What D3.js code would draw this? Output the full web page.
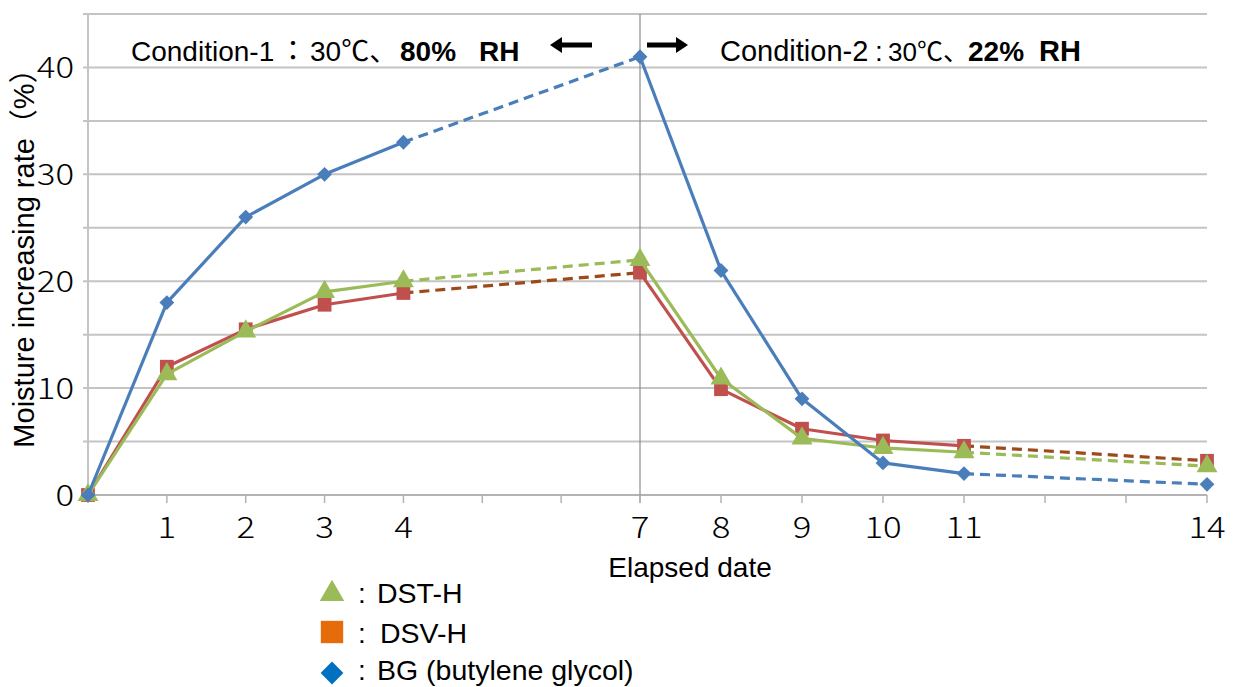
<!DOCTYPE html>
<html>
<head>
<meta charset="utf-8">
<script src="https://cdn.jsdelivr.net/npm/d3@7"></script>
<style>
  html, body { margin: 0; padding: 0; background: #fff; }
  svg { display: block; }
  .lbl { font-family: "Liberation Sans", Arial, "Noto Sans CJK JP", sans-serif; fill: #000; }
  .num { font-family: "Noto Sans CJK JP", "Liberation Sans", sans-serif; font-weight: 300; fill: #000; }
</style>
</head>
<body>
<svg id="chart" width="1242" height="687"></svg>
<script>
// Elapsed days at which measurements were taken
const days = [0, 1, 2, 3, 4, 7, 8, 9, 10, 11, 14];
// Moisture increasing rate (%) per sample
const dstH = [0, 11.3, 15.3, 19.0, 20.0, 22.0, 10.9, 5.3, 4.4, 4.0, 2.7];
const dsvH = [0, 12.0, 15.5, 17.8, 18.9, 20.8, 9.9, 6.2, 5.1, 4.6, 3.2];
const bg   = [0, 18.0, 26.0, 30.0, 33.0, 41.0, 21.0, 9.0, 3.0, 2.0, 1.0];
// Axis ticks
const xTickLabels = [1, 2, 3, 4, 7, 8, 9, 10, 11, 14];
const xTickMarks = d3.range(0, 15);
const yTickLabels = [0, 10, 20, 30, 40];
const yGrid = d3.range(0, 50, 5);
// Segments drawn dashed (gaps between measurement days)
const dashedSpans = [[4, 7], [11, 14]];

const svg = d3.select("#chart");
// day 7 splits the two conditions; each half has its own spacing
const x = d3.scaleLinear().domain([0, 7, 14]).range([88, 640, 1207]);
const y = d3.scaleLinear().domain([0, 45]).range([495, 14]);

// horizontal gridlines
svg.append("g").selectAll("line").data(yGrid).join("line")
  .attr("x1", x(0) - 5).attr("x2", x(14))
  .attr("y1", d => y(d)).attr("y2", d => y(d))
  .attr("stroke", d => d === 0 ? "#b3b3b3" : "#c4c4c4")
  .attr("stroke-width", 2);

// left axis line
svg.append("line").attr("x1", x(0)).attr("x2", x(0))
  .attr("y1", y(45)).attr("y2", y(0))
  .attr("stroke", "#c4c4c4").attr("stroke-width", 2);

// condition boundary at day 7
svg.append("line").attr("x1", x(7)).attr("x2", x(7))
  .attr("y1", y(45)).attr("y2", y(0) + 8)
  .attr("stroke", "#8c8c8c").attr("stroke-width", 1.2);

// x tick marks
svg.append("g").selectAll("line").data(xTickMarks).join("line")
  .attr("x1", d => x(d)).attr("x2", d => x(d))
  .attr("y1", y(0)).attr("y2", y(0) + 8)
  .attr("stroke", "#b3b3b3").attr("stroke-width", 1.5);

// x tick labels
svg.append("g").selectAll("text").data(xTickLabels).join("text")
  .attr("class", "num")
  .attr("transform", d => `translate(${x(d)},538) scale(1.2,1)`)
  .attr("text-anchor", "middle")
  .attr("font-size", 29)
  .text(d => d);

// y tick labels
svg.append("g").selectAll("text").data(yTickLabels).join("text")
  .attr("class", "num")
  .attr("transform", d => `translate(74,${y(d) + 11}) scale(1.2,1)`)
  .attr("text-anchor", "end")
  .attr("font-size", 29)
  .text(d => d);

// axis titles
svg.append("text").attr("class", "lbl")
  .attr("transform", `translate(34,251) rotate(-90)`)
  .attr("text-anchor", "middle")
  .attr("font-size", 29)
  .text("Moisture increasing rate（%）");

svg.append("text").attr("class", "lbl")
  .attr("x", 690).attr("y", 577)
  .attr("text-anchor", "middle")
  .attr("font-size", 28)
  .text("Elapsed date");

// condition annotations
function condition(parts) {
  parts.forEach(p => {
    svg.append("text").attr("class", "lbl")
      .attr("x", p.x).attr("y", 61)
      .attr("font-size", p.size || 28)
      .attr("font-weight", p.bold ? "bold" : null)
      .attr("text-anchor", p.anchor || "start")
      .text(p.t);
  });
}
condition([
  { t: "Condition-1", x: 131 },
  { t: "：", x: 293, anchor: "middle" },
  { t: "30℃、", x: 310 },
  { t: "80%", x: 400, bold: true },
  { t: "RH", x: 479, bold: true }
]);
condition([
  { t: "Condition-2", x: 720, size: 29 },
  { t: ":", x: 879, anchor: "middle" },
  { t: "30℃、", x: 888, size: 26 },
  { t: "22%", x: 968, bold: true },
  { t: "RH", x: 1039, bold: true, size: 29 }
]);

// arrows
function arrow(x0, x1, yy) {
  const dir = Math.sign(x1 - x0);
  svg.append("line").attr("x1", x0).attr("x2", x1 - dir * 8).attr("y1", yy).attr("y2", yy)
    .attr("stroke", "#000").attr("stroke-width", 5);
  svg.append("path")
    .attr("d", `M${x1},${yy} L${x1 - dir * 12},${yy - 8} L${x1 - dir * 12},${yy + 8} Z`)
    .attr("fill", "#000");
}
arrow(592, 550, 45);
arrow(647, 688, 45);

// series
const series = [
  { name: "DST-H", values: dstH, color: "#9bbb59", dash: "#9bbb59", shape: d3.symbolTriangle, size: 190, rot: 0 },
  { name: "DSV-H", values: dsvH, color: "#c0504d", dash: "#9c4a1a", shape: d3.symbolSquare, size: 190, rot: 0 },
  { name: "BG", values: bg, color: "#4a7ebb", dash: "#4a7ebb", shape: d3.symbolSquare, size: 110, rot: 45 }
];
const drawOrder = [series[1], series[0], series[2]];
const line = d3.line().x(d => x(d[0])).y(d => y(d[1]));

drawOrder.forEach(s => {
  const pts = days.map((d, i) => [d, s.values[i]]);
  const isDashed = (a, b) => dashedSpans.some(([p, q]) => a === p && b === q);
  const g = svg.append("g");
  for (let i = 0; i < pts.length - 1; i++) {
    const dashed = isDashed(pts[i][0], pts[i + 1][0]);
    g.append("path")
      .attr("d", line([pts[i], pts[i + 1]]))
      .attr("fill", "none")
      .attr("stroke", dashed ? s.dash : s.color)
      .attr("stroke-width", 3.2)
      .attr("stroke-dasharray", dashed ? "10,6" : null);
  }
  g.selectAll("path.mk").data(pts).join("path")
    .attr("class", "mk")
    .attr("transform", d => `translate(${x(d[0])},${y(d[1])}) rotate(${s.rot})`)
    .attr("d", d3.symbol().type(s.shape).size(s.size))
    .attr("fill", s.color);
});

// legend
const legend = [
  { label: "DST-H", color: "#9bbb59", shape: d3.symbolTriangle, size: 260, rot: 0, yy: 594, base: 603, tx: 377 },
  { label: "DSV-H", color: "#e46c0a", shape: d3.symbolSquare, size: 500, rot: 0, yy: 632, base: 643, tx: 380 },
  { label: "BG (butylene glycol)", color: "#0070c0", shape: d3.symbolSquare, size: 260, rot: 45, yy: 673, base: 680, tx: 377 }
];
legend.forEach(l => {
  svg.append("path")
    .attr("transform", `translate(332,${l.yy}) rotate(${l.rot})`)
    .attr("d", d3.symbol().type(l.shape).size(l.size))
    .attr("fill", l.color);
  svg.append("text").attr("class", "lbl")
    .attr("x", 362).attr("y", l.base)
    .attr("text-anchor", "middle")
    .attr("font-size", 28)
    .text(":");
  svg.append("text").attr("class", "lbl")
    .attr("x", l.tx).attr("y", l.base)
    .attr("font-size", 28.5)
    .text(l.label);
});
</script>
</body>
</html>
